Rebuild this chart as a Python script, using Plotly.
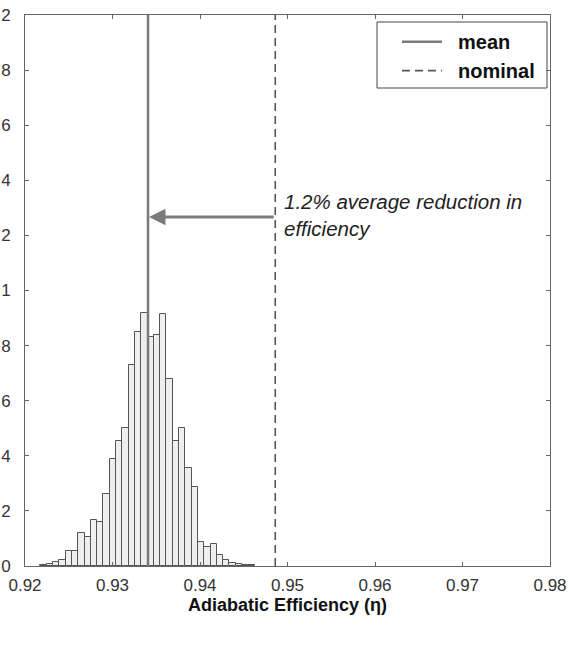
import plotly.graph_objects as go

# ---- data ----
bin_centers = [0.92213, 0.92285, 0.92357, 0.92429, 0.92501, 0.92573, 0.92645, 0.92717,
               0.92789, 0.92861, 0.92933, 0.93005, 0.93077, 0.93149, 0.93221, 0.93293,
               0.93365, 0.93437, 0.93509, 0.93581, 0.93653, 0.93725, 0.93797, 0.93869,
               0.93941, 0.94013, 0.94085, 0.94157, 0.94229, 0.94301, 0.94373, 0.94445,
               0.94517, 0.94589]
frequency = [0.0002, 0.0006, 0.0013, 0.0020, 0.0055, 0.0055, 0.0118, 0.0104,
             0.0168, 0.0158, 0.0260, 0.0390, 0.0455, 0.0500, 0.0730, 0.0850,
             0.0920, 0.0830, 0.0840, 0.0915, 0.0680, 0.0455, 0.0500, 0.0355,
             0.0288, 0.0088, 0.0070, 0.0080, 0.0040, 0.0022, 0.0010, 0.0007,
             0.0003, 0.0002]
bin_width = 0.00072
mean_eff = 0.93406
nominal_eff = 0.9486
arrow_y = 0.1267

x_ticks = [0.92, 0.93, 0.94, 0.95, 0.96, 0.97, 0.98]
x_ticktext = ["0.92", "0.93", "0.94", "0.95", "0.96", "0.97", "0.98"]
y_ticks = [0, 0.02, 0.04, 0.06, 0.08, 0.1, 0.12, 0.14, 0.16, 0.18, 0.2]
# the reference (cropped at its left edge) shows only the last digit of each label
y_ticktext = ["0", "2", "4", "6", "8", "1", "2", "4", "6", "8", "2"]

FONT = "Arial, 'Liberation Sans', sans-serif"
NBSP = "\u00a0"

fig = go.Figure()
fig.add_trace(go.Bar(
    x=bin_centers, y=frequency, width=bin_width,
    marker=dict(color="#eeeeee", line=dict(color="#555555", width=1)),
    showlegend=False, hoverinfo="x+y"))
fig.add_trace(go.Scatter(
    x=[mean_eff, mean_eff], y=[0, 0.2], mode="lines", name=NBSP * 2 + "mean",
    line=dict(color="#7a7a7a", width=2.5)))
fig.add_trace(go.Scatter(
    x=[nominal_eff, nominal_eff], y=[0, 0.2], mode="lines", name=NBSP * 2 + "nominal",
    line=dict(color="#555555", width=1.6, dash="8px,5px")))

fig.add_annotation(x=mean_eff, y=arrow_y, ax=nominal_eff, ay=arrow_y,
                   xref="x", yref="y", axref="x", ayref="y", text="",
                   showarrow=True, arrowhead=2, arrowsize=1.1, arrowwidth=3,
                   arrowcolor="#7a7a7a", standoff=1)
fig.add_annotation(x=0.9494, y=arrow_y + 0.0008, xref="x", yref="y",
                   text="<i>1.2% average reduction in<br>efficiency</i>",
                   showarrow=False, xanchor="left", yanchor="middle", align="left",
                   font=dict(family=FONT, size=20.5, color="#222222"))

# legend frame
fig.add_shape(type="rect", xref="paper", yref="paper",
              x0=0.6705, x1=0.9943, y0=0.8675, y1=0.9873,
              line=dict(color="#444444", width=1), fillcolor="white", layer="below")

axis_common = dict(showline=True, linecolor="#666666", linewidth=1, mirror="ticks",
                   ticks="inside", ticklen=4, tickcolor="#666666", showgrid=False,
                   zeroline=False, automargin=False,
                   tickfont=dict(family=FONT, size=17, color="#333333"))

fig.update_layout(
    width=569, height=646,
    margin=dict(l=25, r=19, t=15, b=80),
    paper_bgcolor="white", plot_bgcolor="rgba(0,0,0,0)",
    bargap=0,
    xaxis=dict(range=[0.92, 0.98], tickvals=x_ticks, ticktext=x_ticktext,
               ticklabelstandoff=4,
               title=dict(text="<b>Adiabatic Efficiency (η)</b>", standoff=3,
                          font=dict(family=FONT, size=18, color="#111111")),
               **axis_common),
    yaxis=dict(range=[0, 0.2], tickvals=y_ticks, ticktext=y_ticktext,
               ticklabelstandoff=10, **axis_common),
    legend=dict(x=0.7085, y=0.987, xanchor="left", yanchor="top",
                bgcolor="rgba(0,0,0,0)", borderwidth=0,
                font=dict(family=FONT, size=20, color="#111111", weight="bold"),
                itemwidth=40),
)

fig.write_html("out.html")
